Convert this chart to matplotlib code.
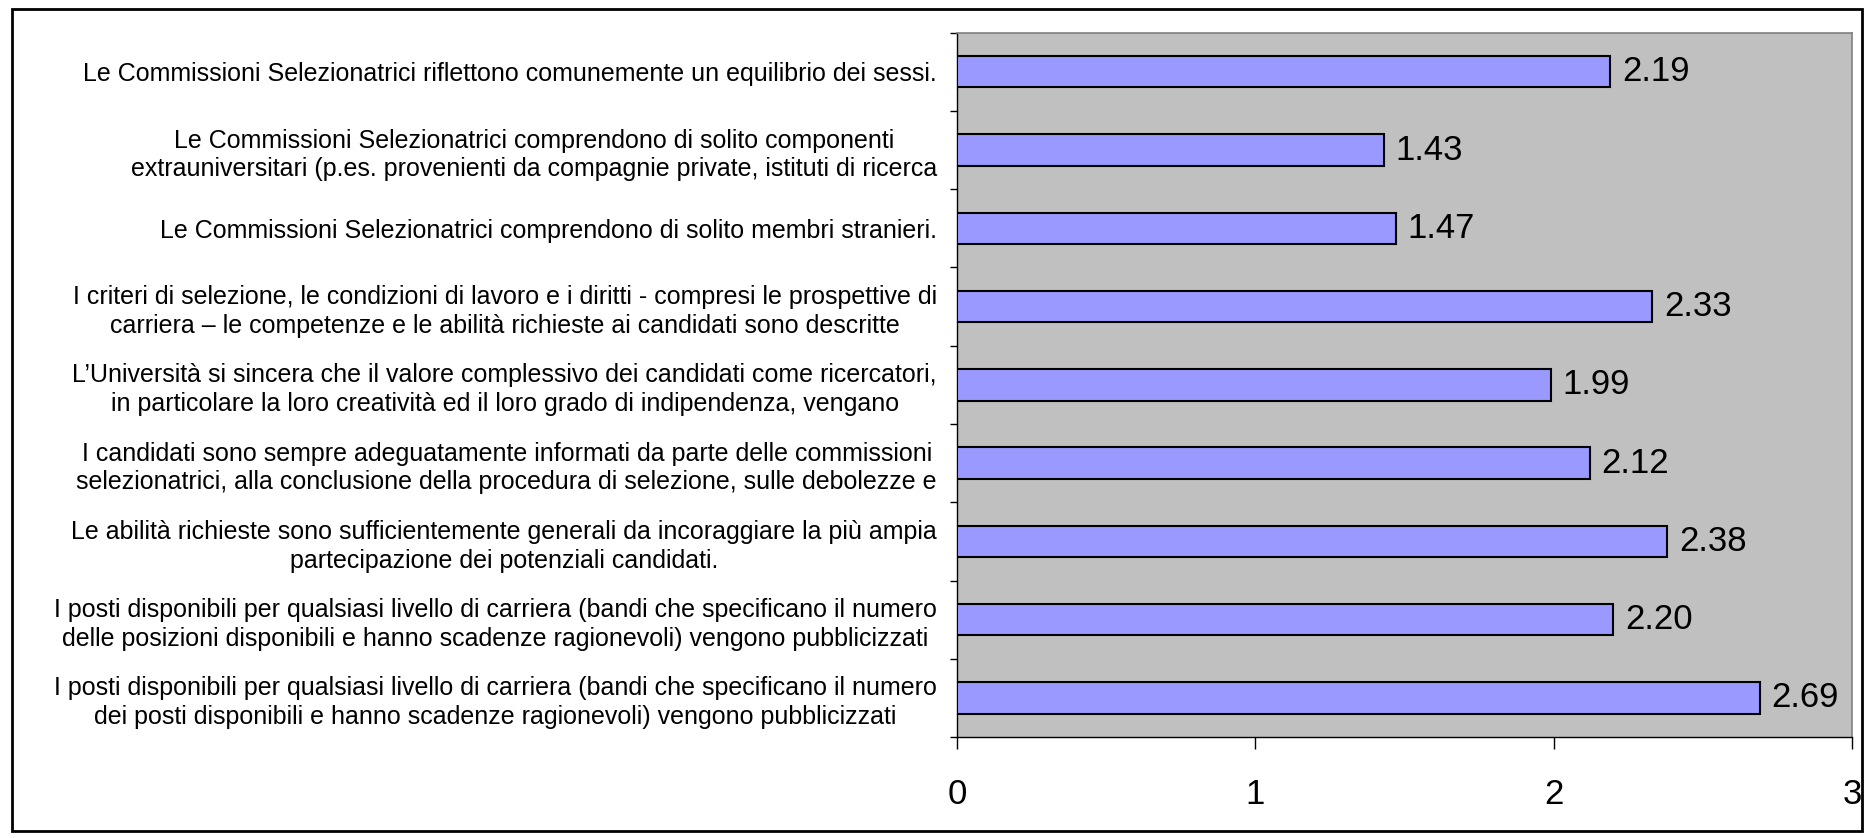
import matplotlib
matplotlib.use("Agg")
import matplotlib.pyplot as plt
from matplotlib.patches import Rectangle
from matplotlib.ticker import FixedLocator

categories = [
    "Le Commissioni Selezionatrici riflettono comunemente un equilibrio dei sessi.",
    "Le Commissioni Selezionatrici comprendono di solito componenti\n"
    "extrauniversitari (p.es. provenienti da compagnie private, istituti di ricerca",
    "Le Commissioni Selezionatrici comprendono di solito membri stranieri.",
    "I criteri di selezione, le condizioni di lavoro e i diritti - compresi le prospettive di\n"
    "carriera \u2013 le competenze e le abilit\u00e0 richieste ai candidati sono descritte",
    "L\u2019Universit\u00e0 si sincera che il valore complessivo dei candidati come ricercatori,\n"
    "in particolare la loro creativit\u00e0 ed il loro grado di indipendenza, vengano",
    "I candidati sono sempre adeguatamente informati da parte delle commissioni\n"
    "selezionatrici, alla conclusione della procedura di selezione, sulle debolezze e",
    "Le abilit\u00e0 richieste sono sufficientemente generali da incoraggiare la pi\u00f9 ampia\n"
    "partecipazione dei potenziali candidati.",
    "I posti disponibili per qualsiasi livello di carriera (bandi che specificano il numero\n"
    "delle posizioni disponibili e hanno scadenze ragionevoli) vengono pubblicizzati",
    "I posti disponibili per qualsiasi livello di carriera (bandi che specificano il numero\n"
    "dei posti disponibili e hanno scadenze ragionevoli) vengono pubblicizzati",
]
values = [2.19, 1.43, 1.47, 2.33, 1.99, 2.12, 2.38, 2.20, 2.69]
x_ticks = [0, 1, 2, 3]

font = ["Liberation Sans", "DejaVu Sans"]

fig = plt.figure(figsize=(18.69, 8.38), dpi=100)
ax = fig.add_axes([0.512, 0.1205, 0.479, 0.8405])

# top category first
pos = list(range(len(categories)))[::-1]
ax.barh(pos, values, height=0.4, color="#9999FF", edgecolor="black", linewidth=1.5, zorder=3)
ax.set_facecolor("#C0C0C0")

for p, v in zip(pos, values):
    ax.text(v + 0.04, p, "{0:.2f}".format(v), va="center", ha="left",
            fontsize=25, family=font)

ax.set_xlim(0, 3)
ax.set_ylim(-0.5, len(categories) - 0.5)
ax.set_xticks(x_ticks)
ax.set_xticklabels([str(t) for t in x_ticks], fontsize=25, family=font)
ax.tick_params(axis="x", direction="out", length=8.6, width=1, pad=21)

ax.set_yticks(pos)
ax.set_yticklabels(categories, fontsize=18, family=font)
for lbl in ax.get_yticklabels():
    lbl.set_multialignment("center")
    lbl.set_linespacing(1.25)
ax.tick_params(axis="y", which="major", length=0, pad=14.4)
ax.yaxis.set_minor_locator(FixedLocator([i - 0.5 for i in range(len(categories) + 1)]))
ax.tick_params(axis="y", which="minor", direction="out", length=5, width=1)

for side in ["top", "right"]:
    ax.spines[side].set_color("#808080")
    ax.spines[side].set_linewidth(1.2)
for side in ["left", "bottom"]:
    ax.spines[side].set_color("black")
    ax.spines[side].set_linewidth(1)

# outer chart frame
fig.patches.append(Rectangle((12 / 1869, 1 - 831 / 838), 1850 / 1869, 822 / 838,
                             transform=fig.transFigure, fill=False,
                             edgecolor="black", linewidth=2))

plt.savefig("out.png", dpi=100)
plt.close()
